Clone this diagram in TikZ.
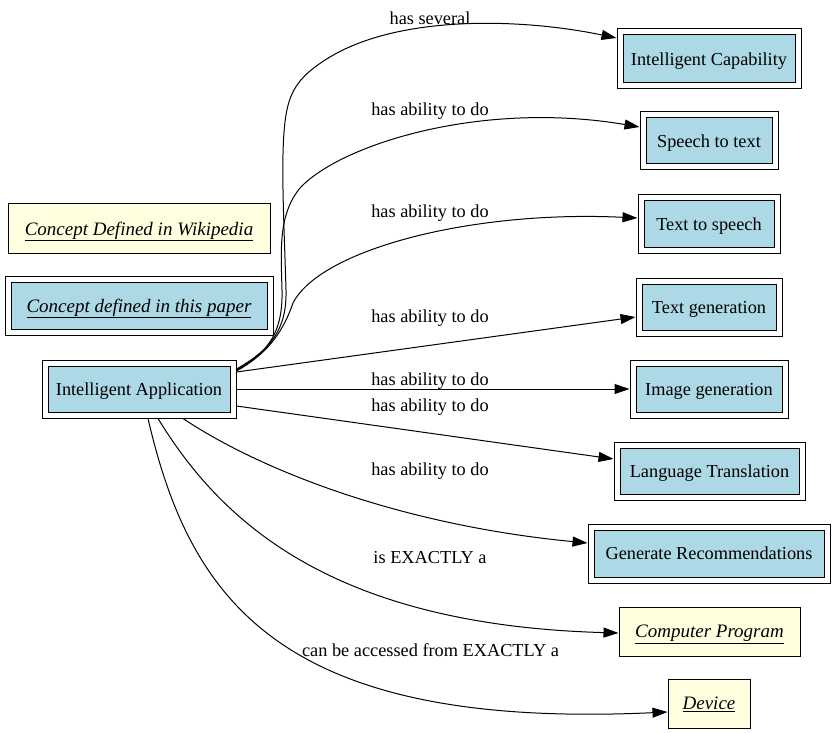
\documentclass[tikz,border=0pt]{standalone}
\usepackage{fontspec}
\setmainfont{Liberation Serif}
\usetikzlibrary{arrows.meta}
\definecolor{conceptblue}{HTML}{ADD8E6}
\definecolor{wikiyellow}{HTML}{FFFFE0}
\newcommand{\conceptlink}[1]{{\fontsize{19}{22}\selectfont\underline{\textit{#1}}}}
\begin{document}
\begin{tikzpicture}[x=1pt,y=-1pt,
  every node/.style={font=\fontsize{18.3}{21}\selectfont},
  base/.style={line width=1pt, inner sep=0pt, anchor=center, text depth=0pt},
  paperbox/.style={base, draw=black, double=white, double distance=5pt,
    fill=conceptblue, outer sep=3.5pt},
  wikibox/.style={base, draw=black, fill=wikiyellow, outer sep=0.5pt},
  link/.style={line width=1pt, -{Triangle[length=15pt,width=10pt]}},
  lbl/.style={inner sep=0pt, yshift=-1pt}
]
\useasboundingbox (0,0) rectangle (836,733);

% legend
\node[wikibox, minimum width=262pt, minimum height=49pt] (legwiki) at (139,228.5)
  {\conceptlink{Concept Defined in Wikipedia}};
\node[paperbox, minimum width=262pt, minimum height=53pt] (legpaper) at (139,305.5)
  {\conceptlink{Concept defined in this paper}};

% source concept
\node[paperbox, minimum width=188pt, minimum height=52pt] (ia) at (139,389) {Intelligent Application};

% target concepts
\node[paperbox, minimum width=178pt, minimum height=54pt] (ic) at (709,59) {Intelligent Capability};
\node[paperbox, minimum width=132pt, minimum height=52pt] (st) at (709,141) {Speech to text};
\node[paperbox, minimum width=136pt, minimum height=52pt] (ts) at (709,224) {Text to speech};
\node[paperbox, minimum width=140pt, minimum height=52pt] (tg) at (709,307) {Text generation};
\node[paperbox, minimum width=152pt, minimum height=52pt] (ig) at (709,389) {Image generation};
\node[paperbox, minimum width=185pt, minimum height=52pt] (lt) at (709.5,471) {Language Translation};
\node[paperbox, minimum width=236pt, minimum height=53pt] (gr) at (709,553.5) {Generate Recommendations};
\node[wikibox, minimum width=181pt, minimum height=49pt] (cp) at (709.5,631.5)
  {\conceptlink{Computer Program}};
\node[wikibox, minimum width=82pt, minimum height=49pt] (dev) at (709,703.5)
  {\conceptlink{Device}};

% edge labels
\node[lbl] (l1) at (430,17) {has several};
\node[lbl] (l2) at (430,110) {has ability to do};
\node[lbl] (l3) at (430,212) {has ability to do};
\node[lbl] (l4) at (430,317) {has ability to do};
\node[lbl] (l5) at (430,380) {has ability to do};
\node[lbl] (l6) at (430,406) {has ability to do};
\node[lbl] (l7) at (430,470) {has ability to do};
\node[lbl] (l8) at (430,557) {is EXACTLY a};
\node[lbl] (l9) at (430.5,649) {can be accessed from EXACTLY a};

% relations
\draw[link] ([yshift=20pt]ia.east) .. controls (270,350) and (287,330) .. (286,290)
  .. controls (284,220) and (280,150) .. (286,115)
  .. controls (290,90) and (300,75) .. (330,57)
  .. controls (400,15) and (520,18) .. ([yshift=21pt]ic.west);
\draw[link] ([yshift=19pt]ia.east) .. controls (270,352) and (283,330) .. (282,290)
  .. controls (281,250) and (278,215) .. (300,188)
  .. controls (340,145) and (480,100) .. ([yshift=14pt]st.west);
\draw[link] ([yshift=18pt]ia.east) .. controls (265,355) and (282,335) .. (293,303)
  .. controls (320,250) and (470,210) .. ([yshift=6pt]ts.west);
\draw[link] ([yshift=17pt]ia.east) -- ([yshift=-10pt]tg.west);
\draw[link] (ia.east) -- (ig.west);
\draw[link] ([yshift=-17pt]ia.east) -- ([yshift=12pt]lt.west);
\draw[link] ([xshift=44pt]ia.south) .. controls (260,470) and (400,525) .. ([yshift=10.5pt]gr.west);
\draw[link] ([xshift=19pt]ia.south) .. controls (220,520) and (330,625) .. ([yshift=-1.5pt]cp.west);
\draw[link] ([xshift=9pt]ia.south) .. controls (190,600) and (280,730) .. ([yshift=-8.5pt]dev.west);
\end{tikzpicture}
\end{document}
